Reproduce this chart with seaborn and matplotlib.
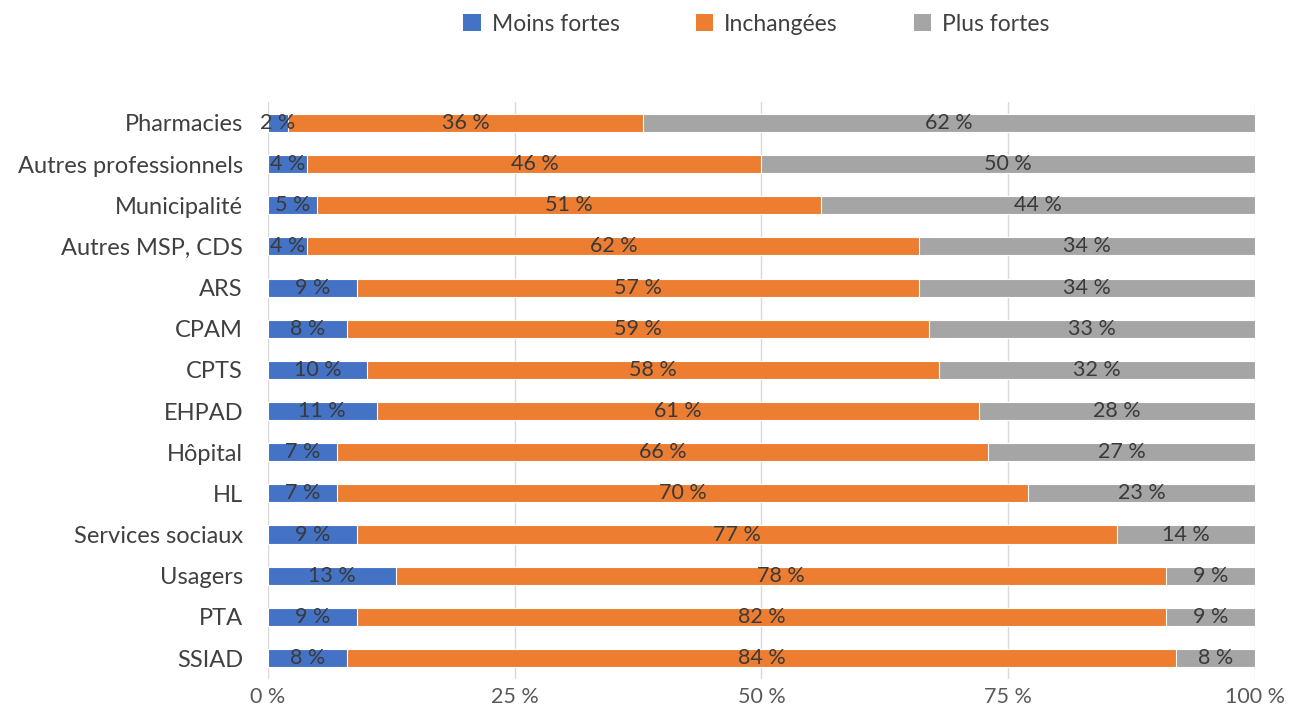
import pandas as pd
import numpy as np
import matplotlib.pyplot as plt
import seaborn as sns
from matplotlib.patches import Patch

categories = ["Pharmacies", "Autres professionnels", "Municipalité", "Autres MSP, CDS",
              "ARS", "CPAM", "CPTS", "EHPAD", "Hôpital", "HL", "Services sociaux",
              "Usagers", "PTA", "SSIAD"]
moins_fortes = [2, 4, 5, 4, 9, 8, 10, 11, 7, 7, 9, 13, 9, 8]
inchangees = [36, 46, 51, 62, 57, 59, 58, 61, 66, 70, 77, 78, 82, 84]
plus_fortes = [62, 50, 44, 34, 34, 33, 32, 28, 27, 23, 14, 9, 9, 8]

series = ["Moins fortes", "Inchangées", "Plus fortes"]
couleurs = ["#4472C4", "#ED7D31", "#A5A5A5"]

df = pd.DataFrame({"cat": categories, "Moins fortes": moins_fortes,
                   "Inchangées": inchangees, "Plus fortes": plus_fortes})
df["c1"] = df["Moins fortes"]
df["c2"] = df["c1"] + df["Inchangées"]
df["c3"] = df["c2"] + df["Plus fortes"]

sns.set_style("white")
plt.rcParams['font.family'] = ['Lato', 'DejaVu Sans']

fig = plt.figure(figsize=(12.91, 7.11), dpi=100)
ax = fig.add_axes([0.2076, 0.0456, 0.7645, 0.8104])

for col, c in zip(["c3", "c2", "c1"], couleurs[::-1]):
    sns.barplot(data=df, y="cat", x=col, color=c, orient="h", width=0.44,
                saturation=1, ax=ax, zorder=3, edgecolor="white", linewidth=0.8)

# étiquettes de données
for i, row in df.iterrows():
    starts = [0, row["c1"], row["c2"]]
    for s, v in zip(starts, [row["Moins fortes"], row["Inchangées"], row["Plus fortes"]]):
        ax.text(s + v / 2, i, f"{v} %", ha="center", va="center",
                fontsize=15.5, color="#3a3a3a", zorder=4)

ax.set_xlim(0, 100)
ax.set_ylim(13.5, -0.5)
ax.set_xticks([0, 25, 50, 75, 100])
ax.set_xticklabels(["0 %", "25 %", "50 %", "75 %", "100 %"], fontsize=15.5, color="#595959")
ax.tick_params(axis="y", labelsize=17, labelcolor="#404040", length=0, pad=18)
ax.tick_params(axis="x", length=0, pad=6)
ax.xaxis.grid(True, color="#D9D9D9", linewidth=1, zorder=0)
ax.set_axisbelow(True)
ax.set_xlabel("")
ax.set_ylabel("")
for s in ax.spines.values():
    s.set_visible(False)

handles = [Patch(facecolor=c, edgecolor="none") for c in couleurs]
fig.legend(handles, series, loc="center", bbox_to_anchor=(0.586, 0.966), ncol=3,
           frameon=False, fontsize=16.5, handlelength=0.75, handleheight=0.75,
           handletextpad=0.5, columnspacing=3.3, labelcolor="#404040")

fig.savefig("out.png", dpi=100)
